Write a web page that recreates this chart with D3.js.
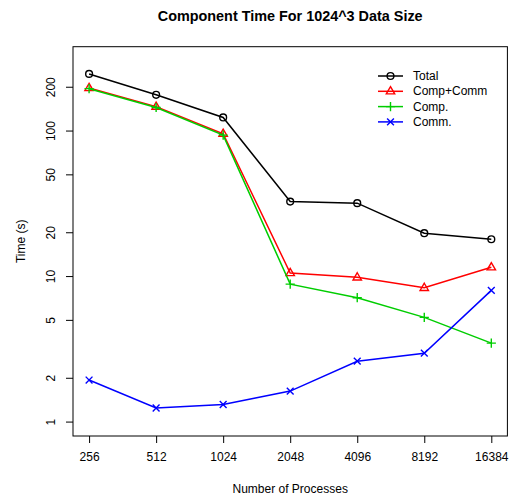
<!DOCTYPE html>
<html>
<head>
<meta charset="utf-8">
<script src="https://cdn.jsdelivr.net/npm/d3@7"></script>
<style>
  body { margin: 0; background: #fff; }
  svg { display: block; font-family: "Liberation Sans", Arial, Helvetica, sans-serif; }
</style>
</head>
<body>
<div id="vizArea"></div>
<script>
var w = 509
var h = 496

// DATA ********************************
var procs = [256, 512, 1024, 2048, 4096, 8192, 16384]
var total = [245, 176, 123, 32.5, 31.7, 19.7, 17.9]
var compComm = [196, 146, 95, 10.5, 9.8, 8.3, 11.5]
var comp = [194, 144, 93, 8.8, 7.1, 5.2, 3.46]
var comm = [1.93, 1.24, 1.31, 1.62, 2.6, 2.95, 7.97]
var yTicks = [1, 2, 5, 10, 20, 50, 100, 200]

var series = [
    {name: "Total", values: total, color: "#000000", pch: "circle"},
    {name: "Comp+Comm", values: compComm, color: "#FF0000", pch: "triangle"},
    {name: "Comp.", values: comp, color: "#00CD00", pch: "plus"},
    {name: "Comm.", values: comm, color: "#0000FF", pch: "cross"}
]

// plot region (R-style margins)
// note: "top" is taken by window.top, so use plot* names
var plotL = 73, plotR = 507.4, plotT = 46.7, plotB = 436

var svg = d3.select("#vizArea").append("svg")
    .attr("width", w)
    .attr("height", h);

// R extends axis ranges by 4% on each side
var xExt = Math.pow(2, 0.24)
var x = d3.scaleLog().base(2)
    .domain([procs[0] / xExt, procs[procs.length - 1] * xExt])
    .range([plotL, plotR]);

var ylo = Math.log10(1), yhi = Math.log10(300), yd = (yhi - ylo) * 0.04
var y = d3.scaleLog()
    .domain([Math.pow(10, ylo - yd), Math.pow(10, yhi + yd)])
    .range([plotB, plotT]);

// box
svg.append("rect")
    .attr("x", plotL).attr("y", plotT)
    .attr("width", plotR - plotL).attr("height", plotB - plotT)
    .attr("fill", "none").attr("stroke", "#000").attr("stroke-width", 1);

// x axis
var xAxis = d3.axisBottom(x).tickValues(procs).tickFormat(d3.format("d"))
    .tickSize(7).tickPadding(9);
var gx = svg.append("g").attr("transform", "translate(0," + plotB + ")").call(xAxis);
gx.select(".domain").remove();
gx.selectAll("text").attr("font-size", 12).attr("fill", "#000").attr("font-family", null);

// y axis
var yAxis = d3.axisLeft(y).tickValues(yTicks).tickFormat(d3.format("d"))
    .tickSize(7).tickPadding(0);
var gy = svg.append("g").attr("transform", "translate(" + plotL + ",0)").call(yAxis);
gy.select(".domain").remove();
gy.selectAll(".tick text")
    .attr("font-size", 12).attr("fill", "#000").attr("font-family", null)
    .attr("x", -22).attr("dy", 0)
    .attr("text-anchor", "middle")
    .attr("transform", "rotate(-90,-22,0)")
    .attr("dominant-baseline", "central");

// titles
svg.append("text")
    .attr("x", (plotL + plotR) / 2).attr("y", 21)
    .attr("text-anchor", "middle")
    .attr("font-size", 14.4).attr("font-weight", "bold")
    .text("Component Time For 1024^3 Data Size");

svg.append("text")
    .attr("x", (plotL + plotR) / 2).attr("y", 488.5)
    .attr("text-anchor", "middle")
    .attr("dominant-baseline", "central")
    .attr("font-size", 12)
    .text("Number of Processes");

svg.append("text")
    .attr("transform", "translate(21," + ((plotT + plotB) / 2) + ") rotate(-90)")
    .attr("text-anchor", "middle")
    .attr("dominant-baseline", "central")
    .attr("font-size", 12)
    .text("Time (s)");

// marker drawing, like R pch 1, 2, 3, 4
function drawMarker(g, pch, color) {
    if (pch == "circle") {
        g.append("circle").attr("r", 3.4)
            .attr("fill", "none").attr("stroke", color).attr("stroke-width", 1.4);
    } else if (pch == "triangle") {
        g.append("path").attr("d", "M0,-4.6L4.2,2.6L-4.2,2.6Z")
            .attr("fill", "none").attr("stroke", color).attr("stroke-width", 1.4);
    } else if (pch == "plus") {
        g.append("path").attr("d", "M-4.6,0H4.6M0,-4.6V4.6")
            .attr("stroke", color).attr("stroke-width", 1.4);
    } else {
        g.append("path").attr("d", "M-3.4,-3.4L3.4,3.4M-3.4,3.4L3.4,-3.4")
            .attr("stroke", color).attr("stroke-width", 1.4);
    }
}

var line = d3.line()
    .x(function(d){ return x(d.p); })
    .y(function(d){ return y(d.v); });

series.forEach(function(s) {
    var pts = procs.map(function(p, i){ return {p: p, v: s.values[i]}; });
    svg.append("path")
        .datum(pts)
        .attr("d", line)
        .attr("fill", "none")
        .attr("stroke", s.color)
        .attr("stroke-width", 1.5);
    pts.forEach(function(d) {
        var g = svg.append("g").attr("transform", "translate(" + x(d.p) + "," + y(d.v) + ")");
        drawMarker(g, s.pch, s.color);
    });
});

// legend
var legend = svg.append("g").attr("transform", "translate(378,76)");
series.forEach(function(s, i) {
    var row = legend.append("g").attr("transform", "translate(0," + (i * 15.3) + ")");
    row.append("line").attr("x1", 0).attr("x2", 25).attr("y1", 0).attr("y2", 0)
        .attr("stroke", s.color).attr("stroke-width", 1.5);
    drawMarker(row.append("g").attr("transform", "translate(12.5,0)"), s.pch, s.color);
    row.append("text").attr("x", 35).attr("y", 0)
        .attr("dominant-baseline", "central")
        .attr("font-size", 12)
        .text(s.name);
});
</script>
</body>
</html>
